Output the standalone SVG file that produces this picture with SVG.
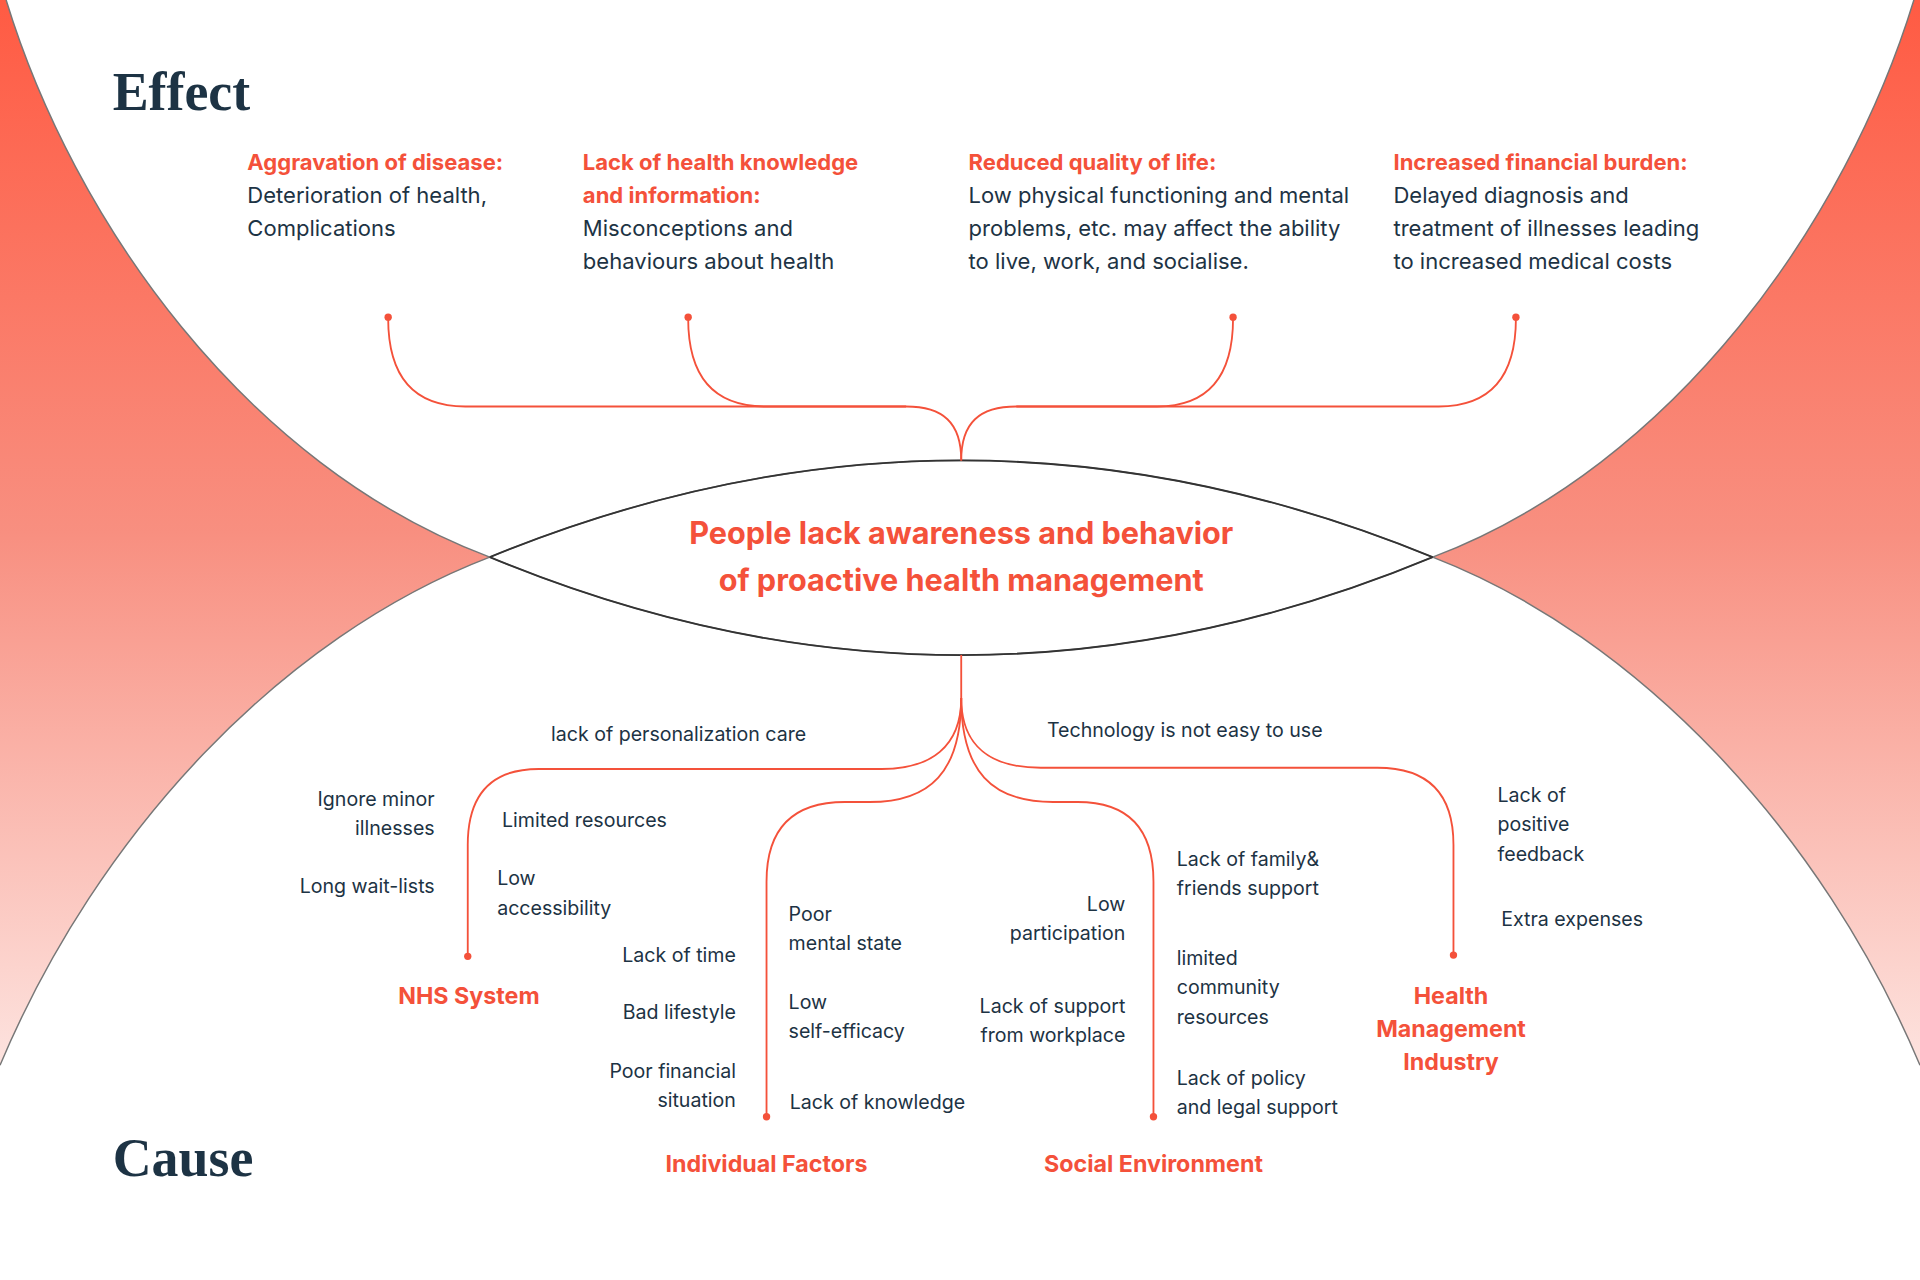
<svg xmlns="http://www.w3.org/2000/svg" width="1920" height="1280" viewBox="0 0 1920 1280">
<defs>
<linearGradient id="rg" x1="0" y1="0" x2="0" y2="1">
<stop offset="0" stop-color="#ff5b43"/><stop offset="0.5" stop-color="#f88f80"/><stop offset="1" stop-color="#fde3df"/>
</linearGradient>
<style>
.t{font-family:Inter,"Liberation Sans",sans-serif;fill:#1d3344;font-size:18px}
.s{font-family:Inter,"Liberation Sans",sans-serif;fill:#1d3344;font-size:16px}
.h{font-family:Inter,"Liberation Sans",sans-serif;fill:#f4513a;font-size:18px;font-weight:bold}
.c{font-family:Inter,"Liberation Sans",sans-serif;fill:#f4513a;font-size:19px;font-weight:bold}
.big{font-family:"Liberation Serif",serif;fill:#1d3344;font-size:44px;font-weight:bold}
.ln{fill:none;stroke:#f4513a;stroke-width:1.5}
.dot{fill:#f4513a}
</style>
</defs>
<rect width="1920" height="1280" fill="#fff"/>
<g transform="scale(1.22449)">
<g id="bg">
<path d="M0,0 L5,0 C60,180 200,380 400,455 C230,520 80,680 0,870 Z" fill="url(#rg)"/>
<path d="M1568,0 L1563,0 C1508,180 1368,380 1170,455 C1338,520 1488,680 1568,870 Z" fill="url(#rg)"/>
<path d="M5,0 C60,180 200,380 400,455 Q785,615 1170,455 C1368,380 1508,180 1563,0" fill="none" stroke="#777" stroke-width="1.2"/>
<path d="M0,870 C80,680 230,520 400,455 Q785,297 1170,455 C1338,520 1488,680 1568,870" fill="none" stroke="#777" stroke-width="1.2"/>
<path d="M400,455 Q785,297 1170,455" fill="none" stroke="#333" stroke-width="1.5"/>
<path d="M400,455 Q785,615 1170,455" fill="none" stroke="#333" stroke-width="1.5"/>
</g>
<g id="connectors">
<path class="ln" d="M785,376 C785,345 770,332 740,332 L380,332 Q317,332 317,260"/>
<path class="ln" d="M740,332 L625,332 Q562,332 562,260"/>
<path class="ln" d="M785,376 C785,345 800,332 830,332 L1175,332 Q1238,332 1238,260"/>
<path class="ln" d="M830,332 L945,332 Q1007,332 1007,260"/>
<path class="ln" d="M785,535 L785,570 C785,610 760,628 720,628 L440,628 Q382,628 382,690 L382,781"/>
<path class="ln" d="M785,570 C785,630 760,655 710,655 L690,655 Q626,655 626,720 L626,912"/>
<path class="ln" d="M785,570 C785,630 810,655 860,655 L880,655 Q942,655 942,720 L942,912"/>
<path class="ln" d="M785,570 C785,610 810,627 850,627 L1125,627 Q1187,627 1187,690 L1187,780"/>
<circle class="dot" cx="317" cy="259" r="3"/><circle class="dot" cx="562" cy="259" r="3"/>
<circle class="dot" cx="1007" cy="259" r="3"/><circle class="dot" cx="1238" cy="259" r="3"/>
<circle class="dot" cx="382" cy="781" r="3"/><circle class="dot" cx="626" cy="912" r="3"/>
<circle class="dot" cx="942" cy="912" r="3"/><circle class="dot" cx="1187" cy="780" r="3"/>
</g>
<text class="big" x="92" y="90">Effect</text>
<text class="big" x="92" y="960">Cause</text>
<g id="e1"><text class="h" x="202" y="139">Aggravation of disease:</text><text class="t" x="202" y="166">Deterioration of health,</text><text class="t" x="202" y="193">Complications</text></g>
<g id="e2"><text class="h" x="476" y="139">Lack of health knowledge</text><text class="h" x="476" y="166">and information:</text><text class="t" x="476" y="193">Misconceptions and</text><text class="t" x="476" y="220">behaviours about health</text></g>
<g id="e3"><text class="h" x="791" y="139">Reduced quality of life:</text><text class="t" x="791" y="166">Low physical functioning and mental</text><text class="t" x="791" y="193">problems, etc. may affect the ability</text><text class="t" x="791" y="220">to live, work, and socialise.</text></g>
<g id="e4"><text class="h" x="1138" y="139">Increased financial burden:</text><text class="t" x="1138" y="166">Delayed diagnosis and</text><text class="t" x="1138" y="193">treatment of illnesses leading</text><text class="t" x="1138" y="220">to increased medical costs</text></g>
<g id="center"><text x="785" y="444" text-anchor="middle" style="font-family:Inter,'Liberation Sans',sans-serif;fill:#f4513a;font-size:25px;font-weight:bold">People lack awareness and behavior</text><text x="785" y="483" text-anchor="middle" style="font-family:Inter,'Liberation Sans',sans-serif;fill:#f4513a;font-size:25px;font-weight:bold">of proactive health management</text></g>
<g id="nhs">
<text class="c" x="383" y="820" text-anchor="middle">NHS System</text>
<text class="s" x="450" y="605">lack of personalization care</text>
<text class="s" x="355" y="658" text-anchor="end">Ignore minor</text><text class="s" x="355" y="682" text-anchor="end">illnesses</text>
<text class="s" x="355" y="729" text-anchor="end">Long wait-lists</text>
<text class="s" x="410" y="675">Limited resources</text>
<text class="s" x="406" y="723">Low</text><text class="s" x="406" y="747">accessibility</text>
</g>
<g id="ind">
<text class="c" x="626" y="957" text-anchor="middle">Individual Factors</text>
<text class="s" x="601" y="786" text-anchor="end">Lack of time</text>
<text class="s" x="601" y="832" text-anchor="end">Bad lifestyle</text>
<text class="s" x="601" y="880" text-anchor="end">Poor financial</text><text class="s" x="601" y="904" text-anchor="end">situation</text>
<text class="s" x="644" y="752">Poor</text><text class="s" x="644" y="776">mental state</text>
<text class="s" x="644" y="824">Low</text><text class="s" x="644" y="848">self-efficacy</text>
<text class="s" x="645" y="906">Lack of knowledge</text>
</g>
<g id="soc">
<text class="c" x="942" y="957" text-anchor="middle">Social Environment</text>
<text class="s" x="919" y="744" text-anchor="end">Low</text><text class="s" x="919" y="768" text-anchor="end">participation</text>
<text class="s" x="919" y="827" text-anchor="end">Lack of support</text><text class="s" x="919" y="851" text-anchor="end">from workplace</text>
<text class="s" x="961" y="707">Lack of family&amp;</text><text class="s" x="961" y="731">friends support</text>
<text class="s" x="961" y="788">limited</text><text class="s" x="961" y="812">community</text><text class="s" x="961" y="836">resources</text>
<text class="s" x="961" y="886">Lack of policy</text><text class="s" x="961" y="910">and legal support</text>
</g>
<g id="hmi">
<text class="s" x="855" y="602">Technology is not easy to use</text>
<text class="c" x="1185" y="820" text-anchor="middle">Health</text><text class="c" x="1185" y="847" text-anchor="middle">Management</text><text class="c" x="1185" y="874" text-anchor="middle">Industry</text>
<text class="s" x="1223" y="655">Lack of</text><text class="s" x="1223" y="679">positive</text><text class="s" x="1223" y="703">feedback</text>
<text class="s" x="1226" y="756">Extra expenses</text>
</g>
</g>
</svg>
